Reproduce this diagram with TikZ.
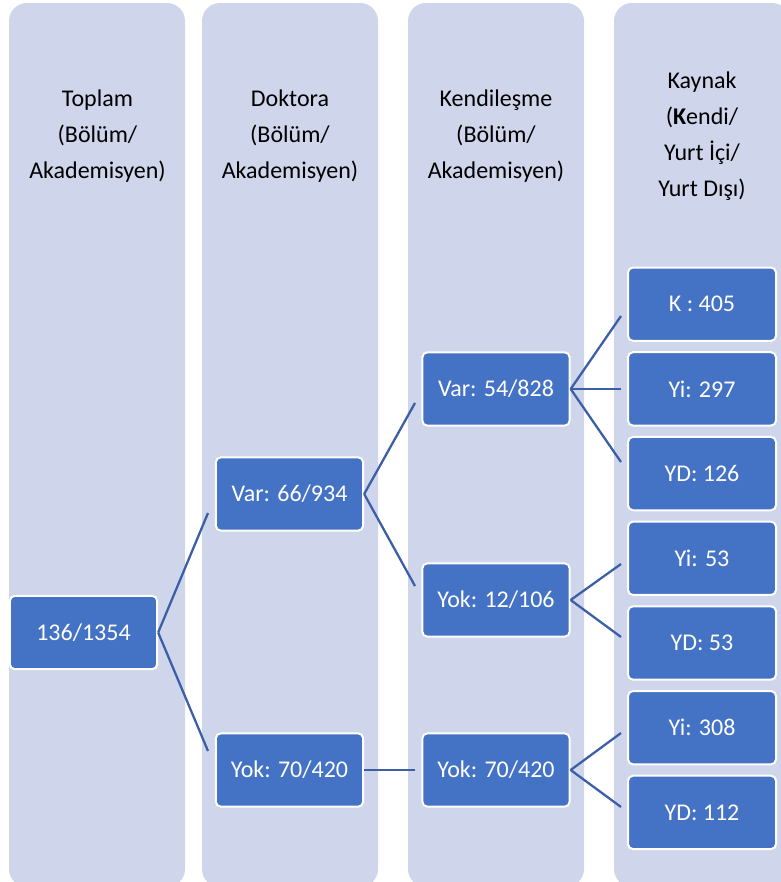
\documentclass[tikz,border=0pt]{standalone}
\usepackage{fontspec}
\setmainfont{Carlito}
\usetikzlibrary{positioning}
\definecolor{laneblue}{HTML}{CFD5EA}
\definecolor{cellblue}{HTML}{4472C4}
\definecolor{linkblue}{HTML}{3B5EA6}
\tikzset{%
  every lane/.style={
    fill=laneblue,
    rounded corners=13.5pt
  },
  lane head/.style={
    align=center,
    font=\fontsize{18}{27}\selectfont
  },
  every cell/.style={
    draw=white,
    line width=1.5pt,
    fill=cellblue,
    rounded corners=3.75pt,
    minimum width=110.5pt,
    minimum height=55pt,
    text=white,
    font=\fontsize{18}{21}\selectfont
  },
  link/.style={
    draw=linkblue,
    line width=1.7pt
  },
}
\begin{document}
\begin{tikzpicture}[x=0.75pt, y=-0.75pt]
\useasboundingbox (0,0) rectangle (781,882);

% lanes
\foreach \x in {9,202,408,614}
  \fill [every lane] (\x,3) rectangle ++(176,884);

\node [lane head] (head-1) at (97.5,136) {Toplam\\(Bölüm/\\Akademisyen)};
\node [lane head] (head-2) at (290,136) {Doktora\\(Bölüm/\\Akademisyen)};
\node [lane head] (head-3) at (496,136) {Kendileşme\\(Bölüm/\\Akademisyen)};
\node [lane head] (head-4) at (702,136) {Kaynak\\(\textbf{K}endi/\\Yurt İçi/\\Yurt Dışı)};

% cells
\node [every cell] (total) at (83.5,632.5) {136/1354};
\node [every cell] (phd-yes) at (289.5,494) {Var: 66/934};
\node [every cell] (phd-no) at (289.5,770) {Yok: 70/420};
\node [every cell] (self-yes) at (496,389) {Var: 54/828};
\node [every cell] (self-mixed) at (496,600) {Yok: 12/106};
\node [every cell] (self-no) at (496,770) {Yok: 70/420};

\foreach \l [count=\i] in {K : 405,Yi: 297,YD: 126,Yi: 53,YD: 53,Yi: 308,YD: 112}
  \node [every cell, minimum width=111pt] (src-\i) at (702,219.5+\i*84.7) {\l};

% connector ends
\coordinate (end-1) at (208,513);
\coordinate (end-2) at (208,751);
\coordinate (end-3) at (415,403);
\coordinate (end-4) at (415,586);
\coordinate (end-5) at (415,770);
\coordinate (end-6) at (621,316);
\coordinate (end-7) at (621,389);
\coordinate (end-8) at (621,462);
\coordinate (end-9) at (621,564);
\coordinate (end-10) at (621,637);
\coordinate (end-11) at (621,733);
\coordinate (end-12) at (621,807);

\foreach \j in {1,2}
  \draw [link] (total.east) -- (end-\j);
\foreach \j in {3,4}
  \draw [link] (phd-yes.east) -- (end-\j);
\draw [link] (phd-no.east) -- (end-5);
\foreach \j in {6,7,8}
  \draw [link] (self-yes.east) -- (end-\j);
\foreach \j in {9,10}
  \draw [link] (self-mixed.east) -- (end-\j);
\foreach \j in {11,12}
  \draw [link] (self-no.east) -- (end-\j);

\end{tikzpicture}
\end{document}
